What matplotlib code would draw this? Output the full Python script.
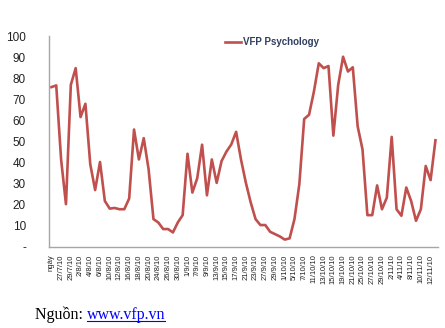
import numpy as np
import matplotlib
matplotlib.use("Agg")
import matplotlib.pyplot as plt
from matplotlib.lines import Line2D

# VFP Psychology index, one value per trading day
psychology = [75.8, 76.6, 41.5, 20.3, 76.9, 84.8, 61.6, 67.9, 39.2, 27.0,
              40.3, 21.8, 18.2, 18.5, 17.9, 17.9, 23.0, 55.7, 41.5, 51.6,
              36.8, 13.2, 11.6, 8.5, 8.5, 6.9, 11.6, 15.1, 44.2, 25.8,
              32.6, 48.5, 24.5, 41.5, 30.4, 40.7, 45.2, 48.6, 54.6, 41.5,
              30.5, 21.1, 13.2, 10.4, 10.4, 7.2, 6.1, 5.0, 3.5, 4.1,
              13.2, 29.7, 60.7, 62.7, 73.7, 87.1, 84.8, 85.8, 52.8, 76.9,
              90.2, 83.2, 85.2, 57.2, 46.2, 15.1, 15.1, 29.2, 17.9, 23.4,
              52.2, 17.9, 14.8, 28.2, 21.8, 12.4, 17.9, 38.4, 31.7, 50.6]

# labels shown on every second category
tick_labels = ["ngày", "27/7/10", "29/7/10", "2/8/10", "4/8/10", "6/8/10",
               "10/8/10", "12/8/10", "16/8/10", "18/8/10", "20/8/10",
               "24/8/10", "26/8/10", "30/8/10", "1/9/10", "7/9/10", "9/9/10",
               "13/9/10", "15/9/10", "17/9/10", "21/9/10", "23/9/10",
               "27/9/10", "29/9/10", "1/10/10", "5/10/10", "7/10/10",
               "11/10/10", "13/10/10", "15/10/10", "19/10/10", "21/10/10",
               "25/10/10", "27/10/10", "29/10/10", "2/11/10", "4/11/10",
               "8/11/10", "10/11/10", "12/11/10"]

y_ticks = [0, 10, 20, 30, 40, 50, 60, 70, 80, 90, 100]

plt.rcParams['font.family'] = ['Liberation Sans', 'DejaVu Sans']

fig = plt.figure(figsize=(4.45, 3.28), dpi=100)
ax = fig.add_axes([0.110, 0.247, 0.874, 0.643])

x = np.arange(len(psychology))
ax.plot(x, psychology, color='#C0504D', lw=1.9, label='VFP Psychology',
        solid_joinstyle='round')

ax.set_xlim(-0.5, len(psychology) - 0.5)
ax.set_ylim(0, 100)
ax.set_yticks(y_ticks)
ax.set_yticklabels(['-' if v == 0 else str(v) for v in y_ticks], fontsize=8.5)
ax.set_xticks(x[::2])
ax.set_xticklabels(tick_labels, rotation=90, fontsize=5.5)
ax.tick_params(axis='y', length=0, pad=16.5, colors='#222222')
ax.tick_params(axis='x', length=0, pad=5.5, colors='#222222')

for s in ['top', 'right']:
    ax.spines[s].set_visible(False)
for s in ['left', 'bottom']:
    ax.spines[s].set_color('#A6A6A6')
    ax.spines[s].set_linewidth(1.0)

leg = ax.legend(loc='upper left', bbox_to_anchor=(0.43, 1.035), frameon=False,
                handlelength=1.7, handletextpad=0.2, fontsize=7)
for t in leg.get_texts():
    t.set_color('#2F3F60')
    t.set_fontweight('bold')

# source line below the chart
fig.canvas.draw()
r = fig.canvas.get_renderer()
t1 = fig.text(35 / 445, 1 - 315 / 328, "Nguồn: ", fontsize=11.5, va='center',
              family=['Liberation Serif', 'DejaVu Serif'], color='black')
bb = t1.get_window_extent(renderer=r)
x2 = bb.x1 / fig.bbox.width
t2 = fig.text(x2, 1 - 315 / 328, "www.vfp.vn", fontsize=11.5, va='center',
              family=['Liberation Serif', 'DejaVu Serif'], color='#0000FF')
bb2 = t2.get_window_extent(renderer=r)
uy = (bb2.y0 + 2) / fig.bbox.height
fig.add_artist(Line2D([bb2.x0 / fig.bbox.width, bb2.x1 / fig.bbox.width], [uy, uy],
                      color='#0000FF', lw=0.8, transform=fig.transFigure))

fig.savefig('out.png', dpi=100)
